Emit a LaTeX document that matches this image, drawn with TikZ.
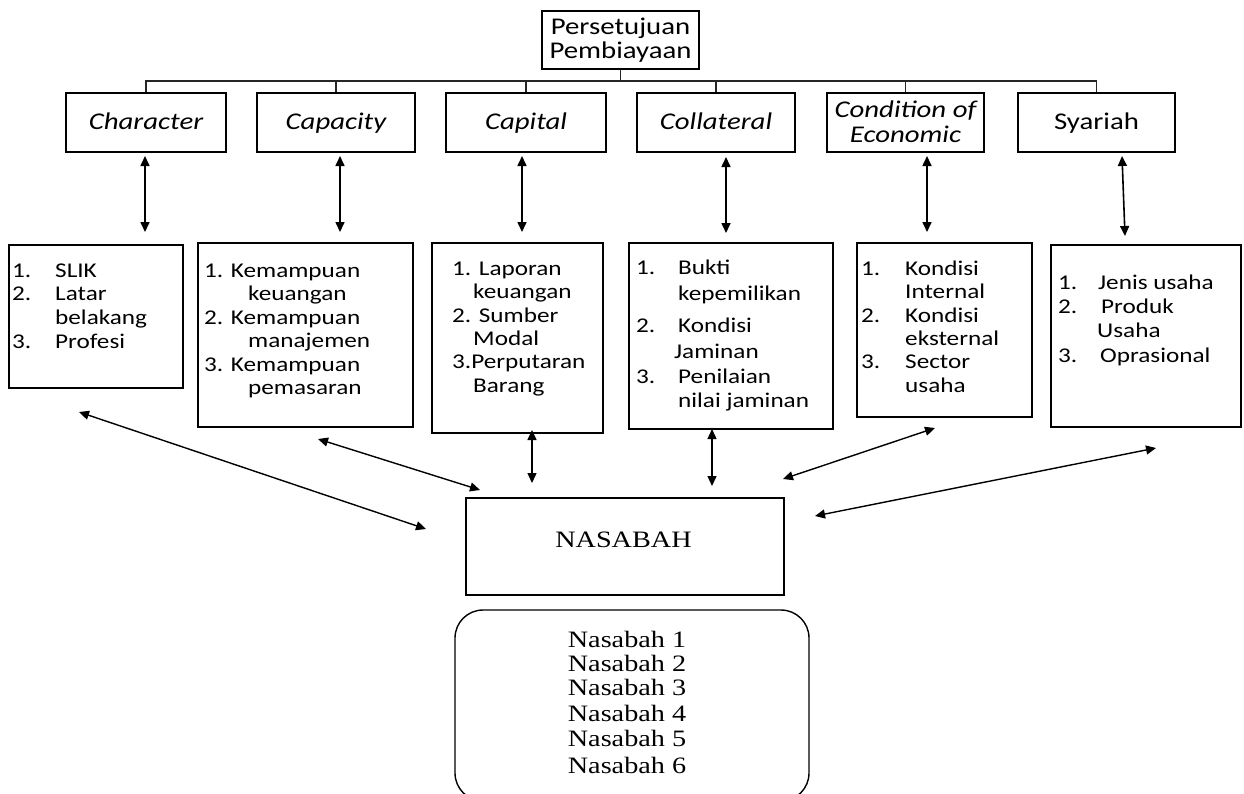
\documentclass[tikz,border=0pt]{standalone}
\usepackage{fontspec}
\setmainfont[FakeStretch=1.2]{Carlito}
\newfontfamily\nasfont[FakeStretch=1.2]{Liberation Serif}
\usetikzlibrary{arrows.meta}

\tikzset{
  frame/.style={draw=black, line width=1.4pt, inner sep=0pt},
  headbox/.style={frame, minimum width=#1, minimum height=59pt, align=center,
    text height=19pt, text depth=6pt, font=\fontsize{24}{25}\selectfont},
  headital/.style={headbox=#1, font=\fontsize{24}{25}\selectfont\itshape},
  headline/.style={anchor=base, inner sep=0pt, font=\fontsize{24}{25}\selectfont\itshape},
  listtxt/.style={anchor=base west, inner sep=0pt, font=\fontsize{21}{23}\selectfont},
  nastxt/.style={anchor=base, inner sep=0pt, font=\nasfont\fontsize{23.5}{25}\selectfont},
  tree/.style={line width=1.6pt, draw=black!85},
  both/.style={line width=1.6pt,
    {Triangle[length=10pt,width=9pt]}-{Triangle[length=10pt,width=9pt]}},
}

% one list line with a tabbed number, and one plain list line
\newcommand\numline[6]{\node[listtxt] (#1) at (#2,#3) {\makebox[#4pt][l]{#5}#6};}
\newcommand\textline[4]{\node[listtxt] (#1) at (#2,#3) {#4};}

\begin{document}
\begin{tikzpicture}[x=1pt,y=-1pt]
\useasboundingbox (0,0) rectangle (1244,793);
\clip (0,0) rectangle (1244,793);

% approval box and the six criteria
\node[frame, minimum width=157, minimum height=58pt, align=center,
  font=\fontsize{24}{24}\selectfont] (top) at (620.5,40) {Persetujuan\\Pembiayaan};
\node[headital=160] (char) at (146,122.5)  {Character};
\node[headital=158] (capa) at (336,122.5)  {Capacity};
\node[headital=160] (capi) at (526,122.5)  {Capital};
\node[headital=158] (coll) at (716,122.5)  {Collateral};
\node[headital=157] (cond) at (905.5,122.5) {};
\node[headline] (condA) at (905.5,117) {Condition of};
\node[headline] (condB) at (905.5,142) {Economic};
\node[headbox=157]  (syar) at (1096.5,122.5) {Syariah};

% tree lines
\coordinate (bus) at (620.5,81);
\draw[tree] (top.south) -- (bus);
\draw[tree] (char.north) -- (char.north |- bus) -- (syar.north |- bus) -- (syar.north);
\foreach \n in {capa,capi,coll,cond}
  \draw[tree] (\n.north) -- (\n.north |- bus);

% detail boxes
\node[frame, minimum width=174, minimum height=143] (charL) at (96,316.5) {};
\node[frame, minimum width=215, minimum height=184] (capaL) at (305.5,335) {};
\node[frame, minimum width=171, minimum height=190] (capiL) at (517.5,338) {};
\node[frame, minimum width=204, minimum height=186] (collL) at (731,336) {};
\node[frame, minimum width=175, minimum height=174] (condL) at (944.5,330) {};
\node[frame, minimum width=190, minimum height=182] (syarL) at (1146,336) {};

% arrows between criteria and details
\coordinate (charT) at (145,156);  \coordinate (charB) at (145,232);
\coordinate (capaT) at (340,156);  \coordinate (capaB) at (340,232);
\coordinate (capiT) at (522,156);  \coordinate (capiB) at (522,232);
\coordinate (collT) at (726,157);  \coordinate (collB) at (726,233);
\coordinate (condT) at (927,156);  \coordinate (condB) at (927,232);
\coordinate (syarT) at (1122,156); \coordinate (syarB) at (1125,236);
\foreach \n in {char,capa,capi,coll,cond,syar}
  \draw[both] (\n T) -- (\n B);

% list texts
\numline{ch1}{12}{277}{43}{1.}{SLIK}
\numline{ch2}{12}{300}{43}{2.}{Latar}
\textline{ch3}{55}{324}{belakang}
\numline{ch4}{12}{348}{43}{3.}{Profesi}

\textline{ca1}{204}{277}{1. Kemampuan}
\textline{ca2}{248}{300}{keuangan}
\textline{ca3}{204}{324}{2. Kemampuan}
\textline{ca4}{248}{347}{manajemen}
\textline{ca5}{204}{371}{3. Kemampuan}
\textline{ca6}{248}{394}{pemasaran}

\textline{cp1}{452}{275}{1. Laporan}
\textline{cp2}{473}{298}{keuangan}
\textline{cp3}{452}{322}{2. Sumber}
\textline{cp4}{473}{345}{Modal}
\textline{cp5}{452}{368}{3.Perputaran}
\textline{cp6}{473}{392}{Barang}

\numline{co1}{636}{274}{42}{1.}{Bukti}
\textline{co2}{678}{300}{kepemilikan}
\numline{co3}{636}{332}{42}{2.}{Kondisi}
\textline{co4}{674}{358}{Jaminan}
\numline{co5}{636}{383}{42}{3.}{Penilaian}
\textline{co6}{678}{407}{nilai jaminan}

\numline{cn1}{861}{275}{44}{1.}{Kondisi}
\textline{cn2}{905}{298}{Internal}
\numline{cn3}{861}{322}{44}{2.}{Kondisi}
\textline{cn4}{905}{345}{eksternal}
\numline{cn5}{861}{368}{44}{3.}{Sector}
\textline{cn6}{905}{392}{usaha}

\numline{sy1}{1058}{289}{40}{1.}{Jenis usaha}
\numline{sy2}{1058}{313}{43}{2.}{Produk}
\textline{sy3}{1097}{337}{Usaha}
\numline{sy4}{1058}{362}{42}{3.}{Oprasional}

% customer box and customer list
\node[frame, minimum width=318, minimum height=97] (nas) at (625,546.5) {};
\node[nastxt] (nasLabel) at (623.5,547) {NASABAH};
\node[frame, rounded corners=28pt, minimum width=354, minimum height=191] (nasList) at (632,705.5) {};
\foreach \i/\y in {1/647,2/671,3/695,4/721,5/746,6/773}
  \node[nastxt] (nas\i) at (627,\y) {Nasabah \i};

% arrows between details and the customer
\coordinate (d1) at (79,412);   \coordinate (n1) at (426,529);
\coordinate (d2) at (318,439);  \coordinate (n2) at (480,490);
\coordinate (d3) at (532,430);  \coordinate (n3) at (532,483);
\coordinate (d4) at (712,429);  \coordinate (n4) at (712,486);
\coordinate (d5) at (935,428);  \coordinate (n5) at (783,479);
\coordinate (d6) at (1156,448); \coordinate (n6) at (815,516);
\foreach \i in {1,...,6}
  \draw[both, line width=1.4pt] (d\i) -- (n\i);
\end{tikzpicture}
\end{document}
